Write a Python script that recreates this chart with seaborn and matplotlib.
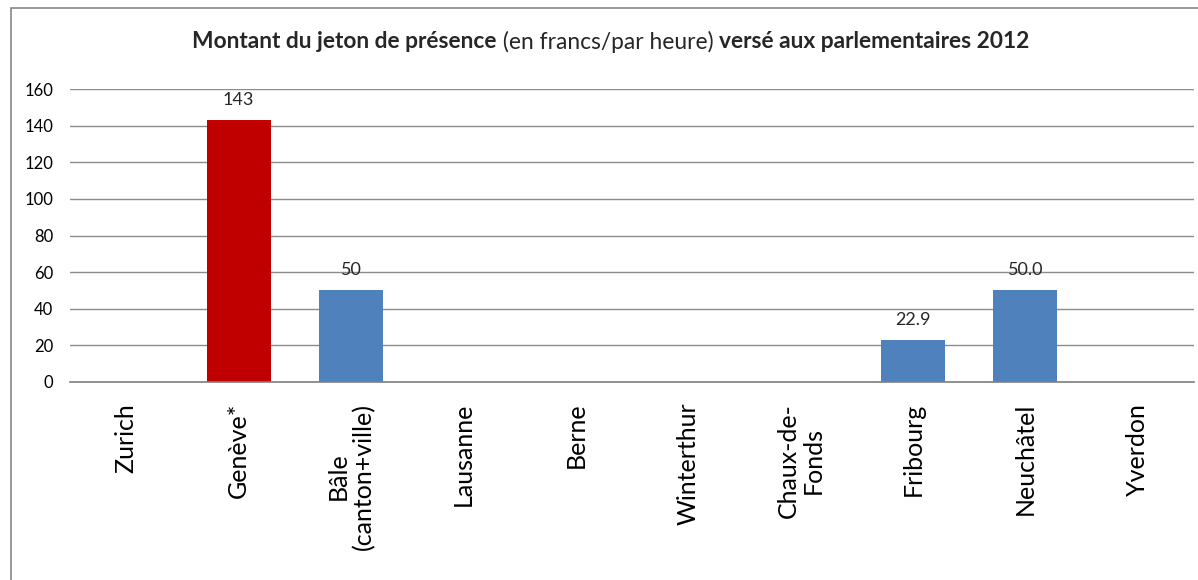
import numpy as np
import pandas as pd
import matplotlib
matplotlib.use("Agg")
import matplotlib.pyplot as plt
import seaborn as sns
from matplotlib.patches import Rectangle

# Values
villes = ["Zurich", "Genève*", "Bâle\n(canton+ville)", "Lausanne", "Berne",
          "Winterthur", "Chaux-de-\nFonds", "Fribourg", "Neuchâtel", "Yverdon"]
montants = [0, 143, 50, 0, 0, 0, 0, 22.9, 50.0, 0]
etiquettes = ["", "143", "50", "", "", "", "", "22.9", "50.0", ""]
couleurs = ["#4F81BD", "#C00000", "#4F81BD", "#4F81BD", "#4F81BD",
            "#4F81BD", "#4F81BD", "#4F81BD", "#4F81BD", "#4F81BD"]
graduations = [0, 20, 40, 60, 80, 100, 120, 140, 160]

df = pd.DataFrame({"ville": villes, "montant": montants})

sns.set_style("white")
plt.rcParams["font.family"] = ["Lato", "DejaVu Sans"]

fig = plt.figure(figsize=(11.98, 5.8), dpi=100)
ax = fig.add_axes([70 / 1198, 198 / 580, 1124 / 1198, 293 / 580])

sns.barplot(data=df, x="ville", y="montant", hue="ville", palette=couleurs,
            legend=False, width=0.57, linewidth=0, saturation=1, ax=ax)

ax.set_ylim(0, 160)
ax.set_xlim(-0.5, len(villes) - 0.5)
ax.set_yticks(graduations)
ax.yaxis.grid(True, color="#8c8c8c", linewidth=1)
ax.set_axisbelow(True)
for s in ["top", "right", "left"]:
    ax.spines[s].set_visible(False)
ax.spines["bottom"].set_color("#7f7f7f")
ax.spines["bottom"].set_linewidth(1.2)
ax.set_xlabel("")
ax.set_ylabel("")
ax.tick_params(axis="y", length=0, pad=12, labelsize=12, colors="black")
ax.tick_params(axis="x", length=0, pad=15, labelsize=18, colors="black")
for lab in ax.get_xticklabels():
    lab.set_rotation(90)
    lab.set_va("top")
    lab.set_ha("center")
    lab.set_multialignment("center")
    lab.set_linespacing(1.1)

for i, txt in enumerate(etiquettes):
    if txt:
        ax.annotate(txt, (i, montants[i]), xytext=(0, 9), textcoords="offset points",
                    ha="center", va="bottom", fontsize=13)

# Title with mixed weights
morceaux = [("Montant du jeton de présence", "bold"),
            (" (en francs/par heure) ", "normal"),
            ("versé aux parlementaires 2012", "bold")]
fig.canvas.draw()
renderer = fig.canvas.get_renderer()
textes = []
for txt, w in morceaux:
    t = fig.text(0, 1 - 42 / 580, txt, fontsize=16.4, fontweight=w,
                 va="center", ha="left")
    textes.append(t)
largeurs = [t.get_window_extent(renderer).width for t in textes]
x = (611 - sum(largeurs) / 2)
for t, l in zip(textes, largeurs):
    t.set_x(x / 1198)
    x += l

# Chart frame
fig.patches.append(Rectangle((11 / 1198, -0.05), 1.2, 1 - 8 / 580 + 0.05,
                             transform=fig.transFigure, fill=False,
                             edgecolor="#868686", linewidth=1.2))

plt.savefig("out.png", dpi=100)
